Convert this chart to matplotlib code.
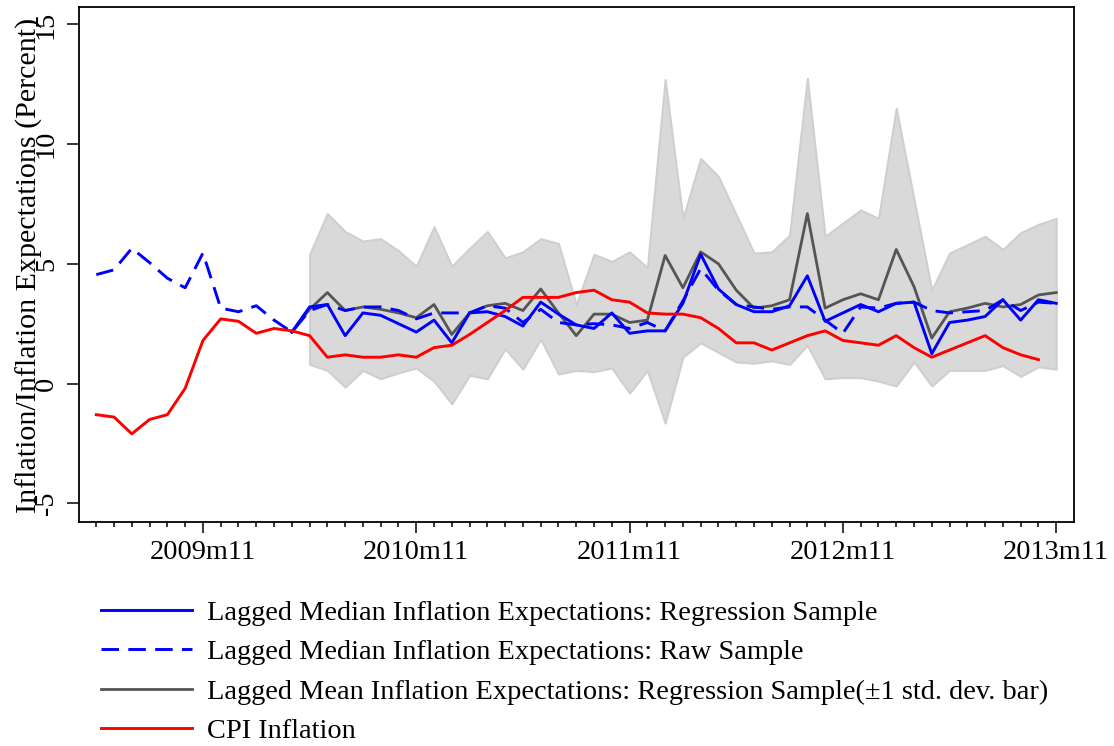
import numpy as np
import matplotlib
matplotlib.use("Agg")
import matplotlib.pyplot as plt
import pandas as pd

# ---------------- data ----------------
months = [f"{p.year}m{p.month}" for p in pd.period_range("2009-05", "2013-11", freq="M")]

# CPI inflation, 2009m5 .. 2013m10
cpi = [-1.3, -1.4, -2.1, -1.5, -1.3, -0.2, 1.8, 2.7, 2.6, 2.1,
       2.3, 2.2, 2.0, 1.1, 1.2, 1.1, 1.1, 1.2, 1.1, 1.5,
       1.6, 2.05, 2.55, 3.05, 3.6, 3.6, 3.6, 3.8, 3.9, 3.5,
       3.4, 2.95, 2.9, 2.9, 2.75, 2.3, 1.7, 1.7, 1.4, 1.7,
       2.0, 2.2, 1.8, 1.7, 1.6, 2.0, 1.5, 1.1, 1.4, 1.7,
       2.0, 1.5, 1.2, 1.0]

# Lagged median expectations, raw sample, 2009m5 .. 2013m11
median_raw = [4.55, 4.75, 5.65, 5.05, 4.4, 4.0, 5.45, 3.15, 3.0, 3.25,
              2.65, 2.15, 3.05, 3.3, 3.05, 3.2, 3.2, 3.05, 2.7, 2.95,
              2.95, 2.95, 3.25, 3.15, 2.55, 3.1, 2.55, 2.45, 2.5, 2.45,
              2.3, 2.55, 2.2, 3.45, 4.8, 3.9, 3.3, 3.2, 3.1, 3.2,
              3.2, 2.65, 2.1, 3.2, 3.15, 3.35, 3.4, 3.05, 2.95, 3.0,
              3.05, 3.5, 3.05, 3.4, 3.35]

# Regression sample series start 2010m4
reg_start = "2010m4"
median_reg = [2.15, 3.2, 3.3, 2.0, 2.95, 2.85, 2.5, 2.15, 2.65, 1.7,
              2.95, 3.0, 2.8, 2.4, 3.4, 2.9, 2.45, 2.3, 2.95, 2.1,
              2.2, 2.2, 3.35, 5.4, 3.95, 3.3, 3.0, 3.0, 3.25, 4.5,
              2.6, 2.95, 3.3, 3.0, 3.35, 3.4, 1.25, 2.55, 2.65, 2.8,
              3.5, 2.65, 3.5, 3.35]
mean_reg = [2.15, 3.1, 3.8, 3.05, 3.2, 3.1, 2.95, 2.75, 3.3, 2.05,
            2.95, 3.25, 3.35, 3.05, 3.95, 2.95, 2.0, 2.9, 2.9, 2.55,
            2.65, 5.35, 4.0, 5.5, 5.0, 3.9, 3.15, 3.25, 3.5, 7.1,
            3.15, 3.5, 3.75, 3.5, 5.6, 4.05, 1.9, 3.0, 3.15, 3.35,
            3.2, 3.3, 3.7, 3.8]

# +/- 1 std. dev. band, starts 2010m5
band_start = "2010m5"
band_upper = [5.4, 7.1, 6.35, 5.95, 6.05, 5.55, 4.9, 6.55, 4.9, 5.65,
              6.35, 5.25, 5.5, 6.05, 5.85, 3.3, 5.4, 5.1, 5.5, 4.85,
              12.7, 6.9, 9.4, 8.65, 7.05, 5.45, 5.5, 6.2, 12.75, 6.15,
              6.7, 7.25, 6.9, 11.5, 7.7, 3.9, 5.45, 5.8, 6.15, 5.6,
              6.3, 6.65, 6.9]
band_lower = [0.8, 0.55, -0.15, 0.55, 0.2, 0.45, 0.65, 0.1, -0.85, 0.35,
              0.2, 1.45, 0.6, 1.85, 0.4, 0.55, 0.5, 0.65, -0.4, 0.55,
              -1.65, 1.1, 1.7, 1.3, 0.9, 0.85, 0.95, 0.8, 1.6, 0.2,
              0.25, 0.25, 0.1, -0.1, 0.9, -0.1, 0.55, 0.55, 0.55, 0.75,
              0.3, 0.7, 0.6]

xtick_labels = ["2009m11", "2010m11", "2011m11", "2012m11", "2013m11"]
yticks = [-5, 0, 5, 10, 15]

labels = ["Lagged Median Inflation Expectations: Regression Sample",
          "Lagged Median Inflation Expectations: Raw Sample",
          "Lagged Mean Inflation Expectations: Regression Sample(\u00b11 std. dev. bar)",
          "CPI Inflation"]

# ---------------- plot ----------------
plt.rcParams['font.family'] = ['Liberation Serif', 'DejaVu Serif']
FS = 20.4
W, H = 1114, 746
fig = plt.figure(figsize=(W / 100, H / 100), dpi=100)
ax = fig.add_axes([78.5 / W, 1 - 521.7 / H, (1074 - 78.5) / W, (521.7 - 6.7) / H])

x = np.arange(len(months))
i_reg = months.index(reg_start)
i_band = months.index(band_start)

ax.fill_between(x[i_band:i_band + len(band_upper)], band_lower, band_upper,
                facecolor='#d9d9d9', edgecolor='#cfcfcf', linewidth=1.5, zorder=1)

lw = 2.1
h_mean, = ax.plot(x[i_reg:i_reg + len(mean_reg)], mean_reg, color='#555555', lw=2.0, zorder=2)
h_raw, = ax.plot(x[:len(median_raw)], median_raw, color='#0000ff', lw=lw,
                 dashes=(6.0, 3.2), zorder=3)
h_reg, = ax.plot(x[i_reg:i_reg + len(median_reg)], median_reg, color='#0000ff', lw=lw, zorder=4)
h_cpi, = ax.plot(x[:len(cpi)], cpi, color='#ff0000', lw=lw, zorder=5)

ax.set_xlim(-1, 55)
ax.set_ylim(-5.77, 15.74)

ax.set_xticks([months.index(m) for m in xtick_labels])
ax.set_xticklabels(xtick_labels)
ax.set_xticks(x, minor=True)
ax.set_yticks(yticks)
ax.set_yticklabels([str(v) for v in yticks], rotation=90, va='center')

for s in ax.spines.values():
    s.set_linewidth(1.3)
ax.tick_params(axis='x', which='major', length=8, width=1.1, pad=5.5, labelsize=FS)
ax.tick_params(axis='x', which='minor', length=3.6, width=1.1)
ax.tick_params(axis='y', which='major', length=8.6, width=1.1, pad=5.5, labelsize=FS)

fig.text(29 / W, 1 - 265 / H, "Inflation/Inflation Expectations (Percent)",
         rotation=90, ha='center', va='center', fontsize=21.6)

leg = fig.legend([h_reg, h_raw, h_mean, h_cpi], labels,
                 loc='upper left', bbox_to_anchor=(100.7 / W, 1 - 600 / H),
                 frameon=False, fontsize=FS, handlelength=3.22, handletextpad=0.53,
                 labelspacing=0.48, borderpad=0, borderaxespad=0)

fig.savefig("out.png", dpi=100)
